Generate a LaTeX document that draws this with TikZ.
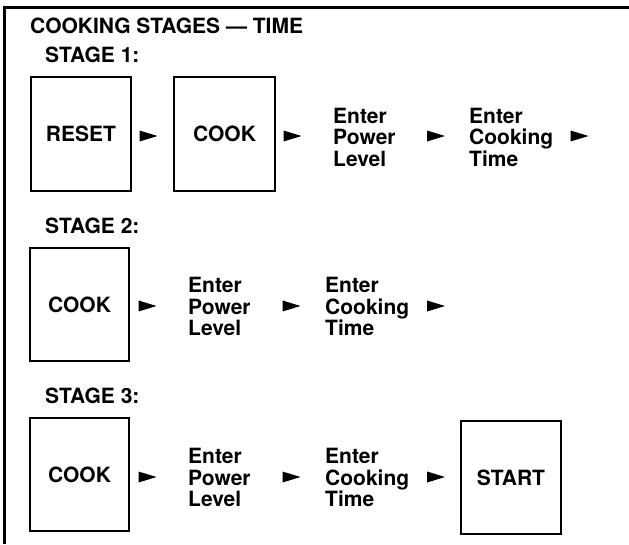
\documentclass[tikz,border=0pt]{standalone}
\usepackage{fontspec}
\setmainfont{TeX Gyre Heros}
\begin{document}
\begin{tikzpicture}[x=1pt,y=-1pt,
  every node/.style={font=\bfseries\fontsize{21}{21.5}\selectfont, inner sep=0pt},
  keybox/.style={draw, line width=1.2pt, minimum width=100pt, minimum height=114pt},
  label/.style={anchor=west, align=left},
  head/.style={anchor=base west},
  tri/.pic={\fill (-9pt,-5.5pt) -- (9pt,0pt) -- (-9pt,5.5pt) -- cycle;}]
\useasboundingbox (0,0) rectangle (629,544);
% frame
\coordinate (fa) at (4.5,544);
\coordinate (fb) at (4.5,7);
\coordinate (fc) at (629,7);
\draw[line width=3pt] (fa) -- (fb) -- (fc);
% headings
\node[head] (title) at (30,33) {COOKING STAGES — TIME};
\node[head] (st1) at (45,62) {STAGE 1:};
\node[head] (st2) at (45,233) {STAGE 2:};
\node[head] (st3) at (45,403) {STAGE 3:};
% stage 1
\node[keybox] (reset) at (81,134) {RESET};
\node[keybox, minimum width=101pt] (cookA) at (224.5,134) {COOK};
\node[label] (powA) at (333,137) {Enter\\Power\\Level};
\node[label] (timeA) at (469,137) {Enter\\Cooking\\Time};
\pic at (148.5,136) {tri};
\pic at (292.5,136) {tri};
\pic at (436,136) {tri};
\pic at (579.5,136) {tri};
% stage 2
\node[keybox, minimum width=99pt, minimum height=113pt] (cookB) at (79.5,304.5) {COOK};
\node[label] (powB) at (188,306.5) {Enter\\Power\\Level};
\node[label] (timeB) at (325,306.5) {Enter\\Cooking\\Time};
\pic at (147.5,306) {tri};
\pic at (291.5,306) {tri};
\pic at (436,306) {tri};
% stage 3
\node[keybox, minimum width=99pt, minimum height=113pt] (cookC) at (79.5,474.5) {COOK};
\node[label] (powC) at (188,477.5) {Enter\\Power\\Level};
\node[label] (timeC) at (325,477.5) {Enter\\Cooking\\Time};
\node[keybox, minimum height=113pt] (start) at (511,477.5) {START};
\pic at (147.5,477) {tri};
\pic at (291.5,477) {tri};
\pic at (436,477) {tri};
\end{tikzpicture}
\end{document}
